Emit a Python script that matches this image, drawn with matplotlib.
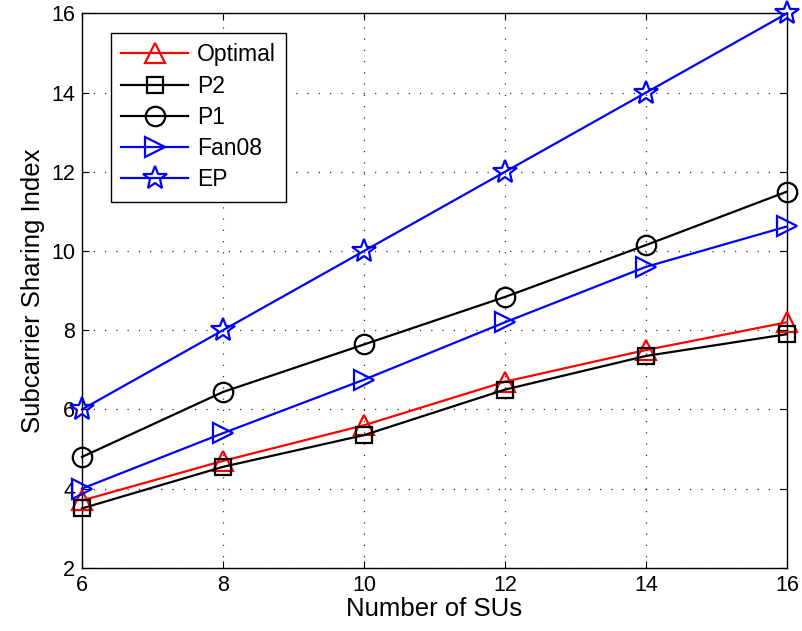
import matplotlib
matplotlib.use("Agg")
import matplotlib.pyplot as plt

plt.rcParams['font.family'] = ['Liberation Sans', 'DejaVu Sans']

num_sus = [6, 8, 10, 12, 14, 16]
optimal = [3.7, 4.7, 5.6, 6.7, 7.5, 8.2]
p2 = [3.5, 4.55, 5.35, 6.5, 7.35, 7.9]
p1 = [4.8, 6.44, 7.64, 8.84, 10.15, 11.5]
fan08 = [4.0, 5.4, 6.75, 8.2, 9.6, 10.62]
ep = [6, 8, 10, 12, 14, 16]

x_ticks = [6, 8, 10, 12, 14, 16]
y_ticks = [2, 4, 6, 8, 10, 12, 14, 16]

fig = plt.figure(figsize=(8.02, 6.31), dpi=100)
ax = fig.add_axes([82 / 802, 1 - 567.8 / 631, (787 - 82) / 802, (567.8 - 13.4) / 631])

lw = 1.6
mew = 1.6
common = dict(lw=lw, mfc='none', mew=mew, clip_on=False, zorder=3)
ax.plot(num_sus, optimal, color='red', marker='^', ms=14, label='Optimal', **common)
ax.plot(num_sus, p2, color='black', marker='s', ms=11.5, label='P2', **common)
ax.plot(num_sus, p1, color='black', marker='o', ms=14, label='P1', **common)
ax.plot(num_sus, fan08, color='blue', marker='>', ms=15, label='Fan08', **common)
ax.plot(num_sus, ep, color='blue', marker='*', ms=18, label='EP', **common)

ax.set_xlim(6, 16)
ax.set_ylim(2, 16)
ax.set_xticks(x_ticks)
ax.set_yticks(y_ticks)
ax.tick_params(direction='in', top=True, right=True, labelsize=15.5, length=5, width=0.8, pad=5)
ax.grid(True, color='#303030', linestyle=(0, (1, 8)), linewidth=0.9)
for s in ax.spines.values():
    s.set_linewidth(1.0)

ax.set_xlabel('Number of SUs', fontsize=18.5, labelpad=1)
ax.set_ylabel('Subcarrier Sharing Index', fontsize=18.5, labelpad=4)

leg = ax.legend(loc='upper left', bbox_to_anchor=(111 / 802, 1 - 33 / 631),
                bbox_transform=fig.transFigure, borderaxespad=0, fontsize=16.5,
                handlelength=2.9, labelspacing=0.36, handletextpad=0.4,
                borderpad=0.45, fancybox=False, framealpha=1, edgecolor='black')
leg.get_frame().set_linewidth(1.0)

fig.savefig('out.png', dpi=100)
